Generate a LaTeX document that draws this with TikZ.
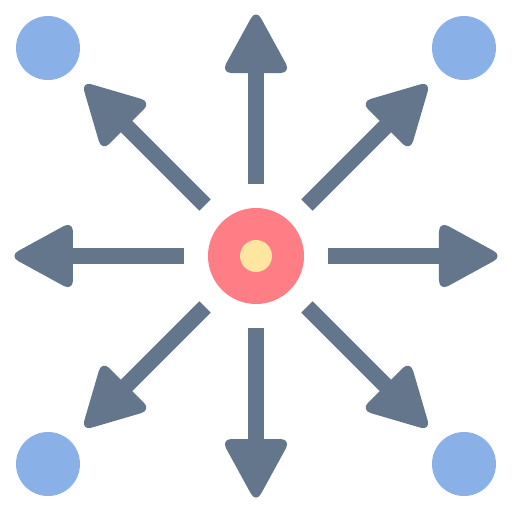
\documentclass[tikz,border=0pt]{standalone}
\usepackage{tikz}
\usetikzlibrary{calc}
\definecolor{arrowgray}{RGB}{100,118,140}
\definecolor{hubred}{RGB}{255,126,134}
\definecolor{hubyellow}{RGB}{255,230,160}
\definecolor{dotblue}{RGB}{138,176,232}
\begin{document}
\begin{tikzpicture}[x=0.02cm, y=-0.02cm]
  \useasboundingbox (0,0) rectangle (512,512);

  % corner dots
  \foreach \cx/\cy in {48/48, 464/48, 48/464, 464/464} {\fill[dotblue] (\cx,\cy) circle (32);}

  % arrows, one drawn eight times around the hub
  \coordinate (C) at (256,256);
  \foreach \a in {0,45,...,315} {
    \begin{scope}[rotate around={\a:(C)}]
      \fill[arrowgray] (248,184) rectangle (264,70);
      \fill[arrowgray, rounded corners=6] (256,9) -- (291,73) -- (221,73) -- cycle;
    \end{scope}
  }

  % hub
  \fill[hubred] (C) circle (48);
  \fill[hubyellow] (C) circle (16);
\end{tikzpicture}
\end{document}
